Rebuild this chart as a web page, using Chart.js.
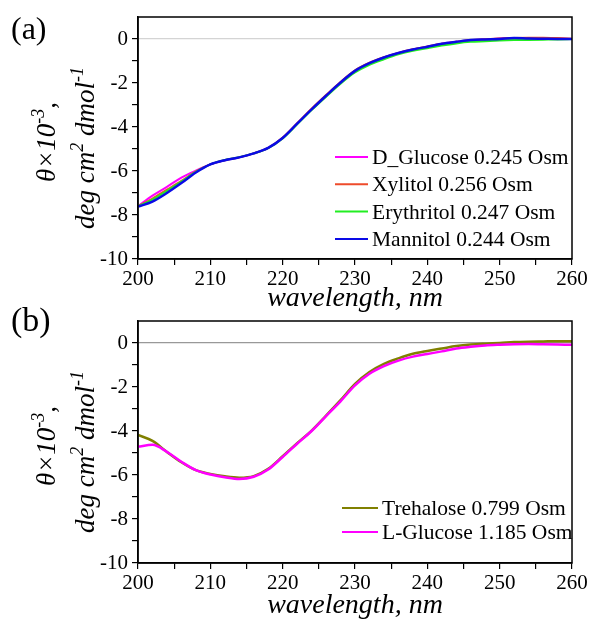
<!DOCTYPE html>
<html>
<head>
<meta charset="utf-8">
<script src="https://cdn.jsdelivr.net/npm/chart.js@4/dist/chart.umd.min.js"></script>
<style>
  html, body { margin: 0; padding: 0; background: #fff; }
  #wrap { position: relative; width: 591px; height: 624px; overflow: hidden; }
  canvas { position: absolute; left: 0; }
  #chartA { top: 0; }
  #chartB { top: 304px; }
</style>
</head>
<body>
<div id="wrap">
  <canvas id="chartA" width="591" height="315"></canvas>
  <canvas id="chartB" width="591" height="318"></canvas>
</div>
<script>
// wavelength grid (nm), 2 nm steps
const wavelengths = [200, 202, 204, 206, 208, 210, 212, 214, 216, 218, 220, 222, 224, 226, 228, 230,
                     232, 234, 236, 238, 240, 242, 244, 246, 248, 250, 252, 254, 256, 258, 260];

// panel (a), theta x 10^-3
const dGlucose   = [-7.60, -7.12, -6.72, -6.30, -5.98, -5.70, -5.51, -5.38, -5.20, -4.95, -4.50, -3.85, -3.20, -2.58, -1.98, -1.45,
                    -1.10, -0.84, -0.64, -0.48, -0.35, -0.22, -0.13, -0.06, -0.02, 0.02, 0.05, 0.05, 0.04, 0.02, 0.00];
const xylitol    = [-7.60, -7.25, -6.85, -6.45, -6.02, -5.70, -5.51, -5.38, -5.20, -4.95, -4.48, -3.83, -3.17, -2.55, -1.95, -1.42,
                    -1.08, -0.83, -0.63, -0.47, -0.34, -0.22, -0.13, -0.05, -0.01, 0.02, 0.05, 0.06, 0.06, 0.04, 0.01];
const erythritol = [-7.60, -7.30, -6.90, -6.48, -6.04, -5.70, -5.50, -5.37, -5.20, -4.96, -4.52, -3.88, -3.23, -2.62, -2.03, -1.52,
                    -1.17, -0.92, -0.70, -0.54, -0.42, -0.30, -0.20, -0.13, -0.10, -0.07, -0.05, -0.04, -0.03, -0.02, 0.00];
const mannitol   = [-7.62, -7.39, -7.00, -6.55, -6.07, -5.70, -5.51, -5.38, -5.20, -4.95, -4.50, -3.85, -3.20, -2.58, -1.98, -1.45,
                    -1.10, -0.84, -0.64, -0.48, -0.35, -0.22, -0.13, -0.05, -0.02, 0.00, 0.04, 0.02, 0.01, 0.00, 0.00];

// panel (b)
const trehalose  = [-4.18, -4.45, -4.95, -5.42, -5.78, -5.95, -6.06, -6.12, -6.05, -5.72, -5.15, -4.55, -3.98, -3.30, -2.60, -1.86,
                    -1.32, -0.95, -0.70, -0.49, -0.36, -0.25, -0.14, -0.07, -0.03, 0.00, 0.04, 0.06, 0.07, 0.08, 0.08];
const lGlucose   = [-4.71, -4.63, -4.95, -5.40, -5.78, -5.98, -6.10, -6.18, -6.08, -5.75, -5.18, -4.58, -4.00, -3.32, -2.65, -1.93,
                    -1.40, -1.05, -0.80, -0.62, -0.50, -0.38, -0.25, -0.17, -0.11, -0.08, -0.06, -0.05, -0.06, -0.07, -0.08];

const xTicks = [200, 210, 220, 230, 240, 250, 260];
const yTicks = [-10, -8, -6, -4, -2, 0];

const FONT = "'Liberation Serif', 'Times New Roman', serif";

function pts(vals) {
    return wavelengths.map((w, i) => ({ x: w, y: vals[i] }));
}

function series(label, vals, color, width, order) {
    return {
        label: label,
        data: pts(vals),
        borderColor: color,
        backgroundColor: color,
        borderWidth: width,
        pointRadius: 0,
        tension: 0.4,
        cubicInterpolationMode: 'monotone',
        order: order
    };
}

// box, y title with superscripts, panel letter and legend
const decorPlugin = {
    id: 'decor',
    afterDraw(chart, args, opts) {
        const ctx = chart.ctx;
        const a = chart.chartArea;
        ctx.save();

        // frame
        ctx.strokeStyle = '#000';
        ctx.lineWidth = 1.5;
        ctx.strokeRect(a.left, a.top, a.right - a.left, a.bottom - a.top);

        // panel letter
        ctx.fillStyle = '#000';
        ctx.font = opts.letterSize + 'px ' + FONT;
        ctx.textBaseline = 'alphabetic';
        ctx.textAlign = 'left';
        ctx.fillText(opts.letter, 11, opts.letterY);

        // y title, two rotated lines
        drawRich(ctx, [['θ×10', 0], ['-3', 1], [',', 0]], 55, a.top + 125);
        drawRich(ctx, [['deg cm', 0], ['2', 1], [' dmol', 0], ['-1', 1]], 94, a.top + 131);

        // legend
        const lg = opts.legend;
        ctx.font = lg.size + 'px ' + FONT;
        chart.data.datasets.forEach((ds, i) => {
            const y = lg.y + i * lg.gap;
            ctx.strokeStyle = ds.borderColor;
            ctx.lineWidth = 2;
            ctx.beginPath();
            ctx.moveTo(lg.x0, y);
            ctx.lineTo(lg.x1, y);
            ctx.stroke();
            ctx.fillStyle = '#000';
            ctx.fillText(ds.label, lg.x1 + 4, y + 7);
        });
        ctx.restore();
    }
};

function drawRich(ctx, parts, baseX, centerY) {
    const big = "italic 27px " + FONT;
    const small = "italic 18px " + FONT;
    let total = 0;
    parts.forEach(p => {
        ctx.font = p[1] ? small : big;
        total += ctx.measureText(p[0]).width;
    });
    ctx.save();
    ctx.translate(baseX, centerY);
    ctx.rotate(-Math.PI / 2);
    ctx.fillStyle = '#000';
    ctx.textBaseline = 'alphabetic';
    ctx.textAlign = 'left';
    let x = -total / 2;
    parts.forEach(p => {
        ctx.font = p[1] ? small : big;
        ctx.fillText(p[0], x, p[1] ? -11 : 0);
        x += ctx.measureText(p[0]).width;
    });
    ctx.restore();
}

function makeChart(id, datasets, zeroColor, height, panel) {
    return new Chart(document.getElementById(id), {
        type: 'line',
        data: { datasets: datasets },
        options: {
            responsive: false,
            animation: false,
            devicePixelRatio: 1,
            layout: { padding: { top: 17, right: 19, left: 0, bottom: 0 } },
            plugins: {
                legend: { display: false },
                tooltip: { enabled: false },
                decor: panel
            },
            scales: {
                x: {
                    type: 'linear',
                    min: 200,
                    max: 260,
                    afterFit: s => { s.height = height - 259; },
                    ticks: {
                        stepSize: 5,
                        autoSkip: false,
                        maxRotation: 0,
                        color: '#000',
                        font: { family: FONT, size: 21 },
                        padding: 2,
                        callback: v => xTicks.includes(v) ? v : ''
                    },
                    grid: { drawOnChartArea: false, tickColor: '#000', tickLength: 6, lineWidth: 1.2 },
                    border: { color: '#000', width: 1.5 },
                    title: {
                        display: true,
                        text: 'wavelength, nm',
                        color: '#000',
                        font: { family: FONT, size: 28, style: 'italic' },
                        padding: { top: 0, bottom: 0 }
                    }
                },
                y: {
                    min: -10,
                    max: 1,
                    afterFit: s => { s.width = 138; },
                    ticks: {
                        stepSize: 1,
                        autoSkip: false,
                        color: '#000',
                        font: { family: FONT, size: 21 },
                        padding: 4,
                        callback: v => yTicks.includes(v) ? v : ''
                    },
                    grid: {
                        color: c => (c.tick && c.tick.value === 0) ? zeroColor : 'rgba(0,0,0,0)',
                        tickColor: c => (c.tick && c.tick.value === 1) ? 'rgba(0,0,0,0)' : '#000',
                        tickLength: 6,
                        lineWidth: 1.2
                    },
                    border: { color: '#000', width: 1.5 }
                }
            }
        },
        plugins: [decorPlugin]
    });
}

makeChart('chartA', [
    series('D_Glucose 0.245 Osm', dGlucose, '#ff00ff', 2, 3),
    series('Xylitol 0.256 Osm', xylitol, '#ee4b2b', 2, 2),
    series('Erythritol 0.247 Osm', erythritol, '#22ee22', 2, 1),
    series('Mannitol 0.244 Osm', mannitol, '#0a0ae6', 2.5, 0)
], '#d4d4d4', 315, {
    letter: '(a)', letterSize: 32, letterY: 39,
    legend: { x0: 335, x1: 368, y: 157, gap: 27.3, size: 21.5 }
});

makeChart('chartB', [
    series('Trehalose 0.799 Osm', trehalose, '#808000', 2.5, 1),
    series('L-Glucose 1.185 Osm', lGlucose, '#ff00ff', 2.5, 0)
], '#999999', 318, {
    letter: '(b)', letterSize: 34, letterY: 27,
    legend: { x0: 342, x1: 378, y: 204, gap: 24, size: 21.5 }
});
</script>
</body>
</html>
